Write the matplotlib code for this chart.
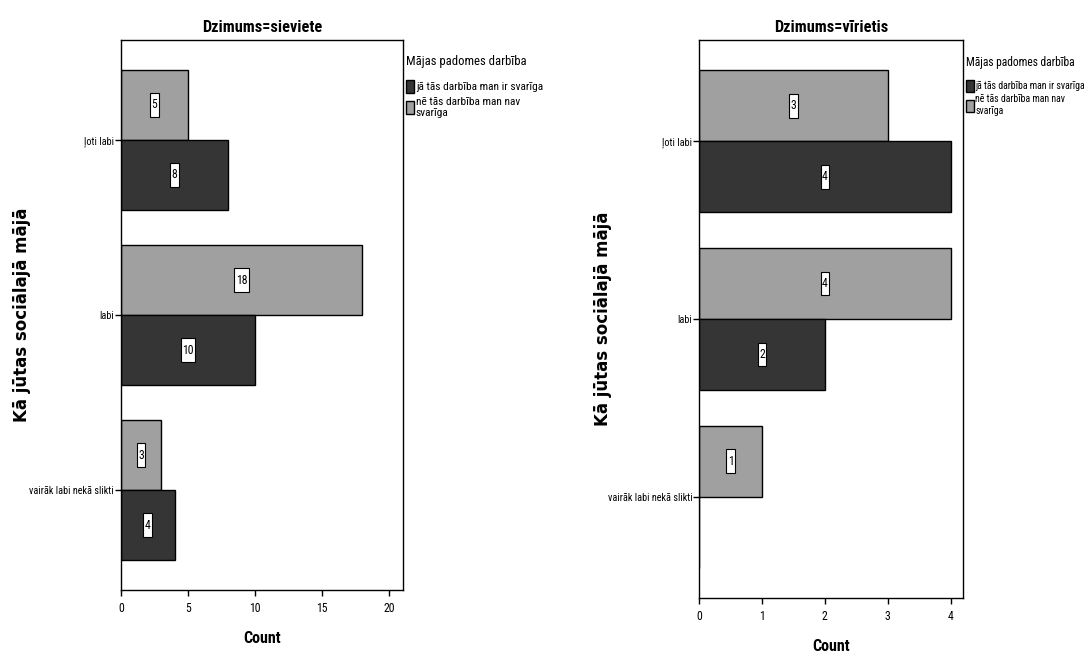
import matplotlib.pyplot as plt
import matplotlib.patches as mpatches
from matplotlib.path import Path
from matplotlib import font_manager as fm
import numpy as np

categories = ['ļoti labi', 'labi', 'vairāk labi nekā slikti']
series_names = ['jā tās darbība man ir svarīga', 'nē tās darbība man nav\nsvarīga']
legend_title = 'Mājas padomes darbība'

# sieviete
female_yes = [8, 10, 4]
female_no = [5, 18, 3]
# vīrietis
male_yes = [4, 2, 0]
male_no = [3, 4, 1]

dark = '#353535'
gray = '#a0a0a0'

# narrow font if there is one, else shrink the regular one
names = {f.name for f in fm.fontManager.ttflist}
NARROW, SHRINK = 'Liberation Sans', 0.84
for cand in ['Roboto Condensed', 'Liberation Sans Narrow', 'Arial Narrow']:
    if cand in names:
        NARROW, SHRINK = cand, 1.0
        break
FAM = [NARROW, 'Liberation Sans', 'DejaVu Sans']
plt.rcParams['font.family'] = FAM


def fs(x):
    return x * SHRINK


def tall_box(x0, y0, width, height, mutation_size):
    # SPSS-like label box: thin sideways, tall vertically
    px = 0.12 * mutation_size
    py = 0.45 * mutation_size
    return Path([(x0 - px, y0 - py), (x0 + width + px, y0 - py),
                 (x0 + width + px, y0 + height + py), (x0 - px, y0 + height + py),
                 (x0 - px, y0 - py)], closed=True)


def draw_panel(ax, yes, no, title, xmax, xticks, leg_x, leg_fs, leg_title_fs):
    y = np.arange(len(categories))
    h = 0.4
    ax.barh(y - h / 2, no, height=h, color=gray, edgecolor='black', linewidth=1)
    ax.barh(y + h / 2, yes, height=h, color=dark, edgecolor='black', linewidth=1)
    for vals, off in [(no, -h / 2), (yes, h / 2)]:
        for i, v in enumerate(vals):
            if v > 0:
                ax.text(v / 2, i + off, str(v), ha='center', va='center', fontsize=fs(8.5),
                        bbox=dict(boxstyle=tall_box, facecolor='white',
                                  edgecolor='black', linewidth=0.8))
    ax.set_ylim(len(categories) - 1 + 0.57, -0.57)
    ax.set_xlim(0, xmax)
    ax.set_xticks(xticks)
    ax.set_yticks(y)
    ax.set_yticklabels(categories, fontsize=fs(7.3))
    ax.tick_params(axis='x', labelsize=fs(8.5), length=4, width=1, direction='out', pad=5)
    ax.tick_params(axis='y', length=4, width=1, direction='out', pad=1)
    for s in ax.spines.values():
        s.set_linewidth(1)
    ax.set_title(title, fontsize=fs(11.7), fontweight='bold', pad=6)
    ax.set_xlabel('Count', fontsize=fs(11.5), fontweight='bold', labelpad=11)
    ax.set_ylabel('Kā jūtas sociālajā mājā', fontsize=12, fontweight='bold',
                  family=['DejaVu Sans'])

    handles = [mpatches.Patch(facecolor=dark, edgecolor='black'),
               mpatches.Patch(facecolor=gray, edgecolor='black')]
    leg = ax.legend(handles, series_names, title=legend_title, loc='upper left',
                    bbox_to_anchor=(leg_x, 0.972), frameon=False, fontsize=leg_fs,
                    title_fontsize=leg_title_fs, handlelength=0.75, handleheight=1.45,
                    handletextpad=0.15, borderaxespad=0, borderpad=0, labelspacing=0.3)
    leg._legend_box.align = 'left'
    leg._legend_box.sep = 8


fig = plt.figure(figsize=(10.84, 6.57), dpi=100)
ax1 = fig.add_axes([0.1116, 0.102, 0.260, 0.837])
ax2 = fig.add_axes([0.645, 0.090, 0.2435, 0.849])

draw_panel(ax1, female_yes, female_no, 'Dzimums=sieviete', 21.05, [0, 5, 10, 15, 20],
           1.01, fs(8.2), fs(9.1))
draw_panel(ax2, male_yes, male_no, 'Dzimums=vīrietis', 4.2, [0, 1, 2, 3, 4],
           1.012, fs(7.1), fs(8.3))

ax1.yaxis.set_label_coords(-0.319, 0.5)
ax2.yaxis.set_label_coords(-0.33, 0.5)

fig.savefig('out.png', dpi=100)
